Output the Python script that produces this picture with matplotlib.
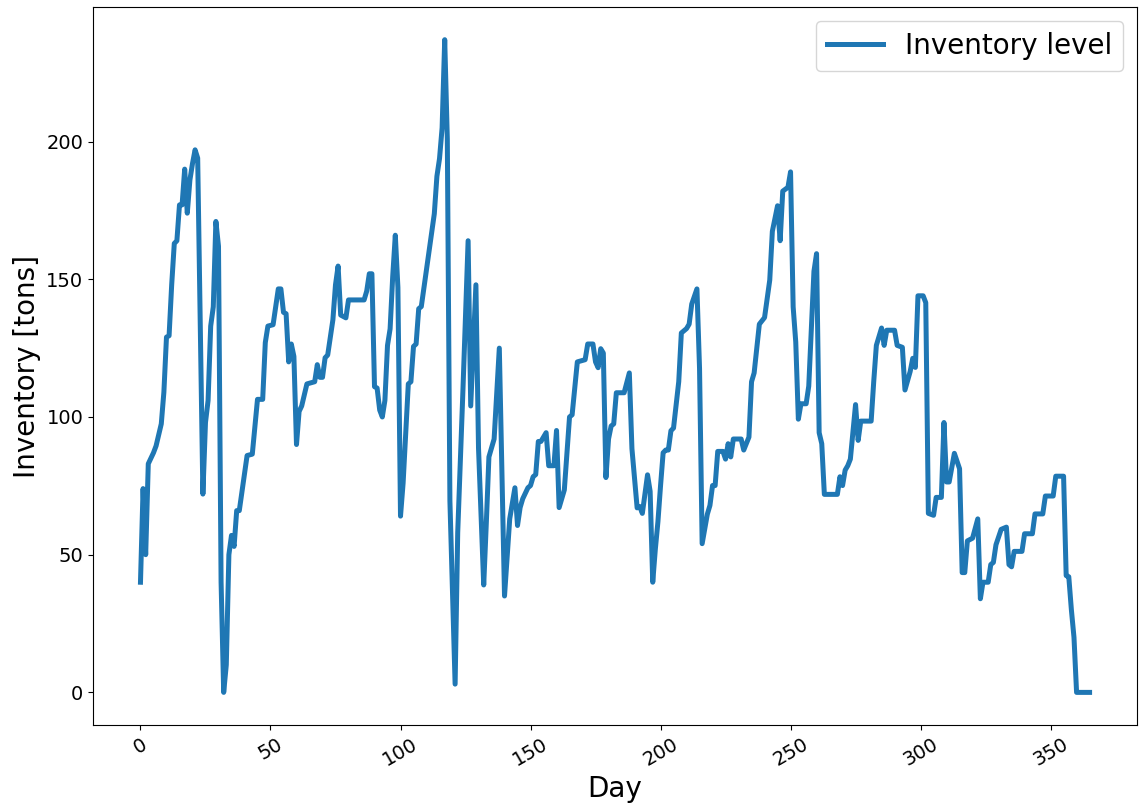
import matplotlib
matplotlib.use("Agg")
import matplotlib.pyplot as plt

# Stock on hand over the year: day index and inventory level (tons) at each change point
day = [
    0, 1, 2, 3, 5, 6, 8, 9, 10, 11, 12, 13, 14, 15, 16, 17, 18, 19, 20, 21, 22, 24,
    25, 26, 27, 28, 29, 30, 31, 32, 33, 34, 35, 36, 37, 38, 41, 43, 45, 47, 48, 49,
    51, 53, 54, 55, 56, 57, 58, 59, 60, 61, 62, 64, 67, 68, 69, 70, 71, 72, 74, 75,
    76, 77, 79, 80, 86, 87, 88, 89, 90, 91, 92, 93, 94, 95, 96, 97, 98, 99, 100, 101,
    103, 104, 105, 106, 107, 108, 113, 114, 115, 116, 117, 118, 119, 121, 122, 124,
    126, 127, 129, 130, 132, 133, 134, 136, 138, 140, 142, 144, 145, 146, 147, 149,
    150, 151, 152, 153, 154, 156, 157, 159, 160, 161, 163, 165, 166, 168, 171, 172,
    174, 175, 176, 177, 178, 179, 180, 181, 182, 183, 186, 188, 189, 191, 192, 193,
    195, 196, 197, 198, 199, 200, 201, 202, 203, 204, 205, 207, 208, 210, 211, 212,
    214, 215, 216, 218, 219, 220, 221, 222, 224, 225, 226, 227, 228, 231, 232, 234,
    235, 236, 238, 240, 242, 243, 245, 246, 247, 249, 250, 251, 252, 253, 254, 256,
    257, 259, 260, 261, 262, 263, 268, 269, 270, 271, 272, 273, 275, 276, 277, 281,
    282, 283, 285, 286, 287, 290, 291, 293, 294, 296, 297, 298, 299, 301, 302, 303,
    305, 306, 308, 309, 310, 311, 313, 315, 316, 317, 318, 320, 322, 323, 324, 326,
    327, 328, 329, 331, 333, 334, 335, 336, 339, 340, 343, 344, 347, 348, 351, 352,
    355, 356, 357, 358, 359, 360, 365,
]
level = [
    40, 74, 50, 83, 87, 89.5, 97.5, 109, 129, 129.5, 148, 163, 164, 177, 177, 190, 174, 186, 192, 197, 194, 72,
    98, 106, 133, 140, 171, 162, 40, 0, 10, 50, 57, 53, 66, 66, 86, 86.5, 106.4, 106.4, 127, 133,
    133.5, 146.5, 146.5, 138, 137.5, 120, 126.5, 122, 90, 102, 104, 112, 112.8, 119, 114.4, 114.4, 121.5, 122.5, 135.3, 148,
    154.8, 137, 136, 142.5, 142.5, 145.7, 152, 152, 111, 110.5, 102.5, 100, 106, 126, 132, 151, 166, 147, 64, 76,
    112, 112.8, 125.6, 126.5, 139.3, 140.1, 173.8, 187.4, 193.8, 205, 237, 201, 69.5, 3, 58, 109.5,
    164, 104, 148, 88.7, 39, 61.5, 85.5, 92, 125, 35, 63, 74.3, 60.6, 67.1, 70.3, 74.3,
    75.1, 78.3, 79.1, 91.1, 91.1, 94.3, 82.3, 82.3, 95.1, 67.1, 73.5, 100, 100.8, 120, 120.8, 126.5,
    126.5, 120, 117.9, 124.8, 123.2, 78, 92, 96.7, 97.5, 108.8, 108.8, 116, 88.5, 67, 67.5, 65,
    79, 73, 40, 52, 62, 75, 87, 88, 88, 95, 96, 112.8, 130.5, 132.1, 133.7, 141,
    146.5, 117.6, 54, 64.7, 67.9, 75.1, 75.1, 87.5, 87.5, 84.7, 90.3, 85.5, 92, 92, 88, 92.7,
    112.8, 116, 133.7, 136.1, 149.7, 167.4, 176.7, 164, 182, 183.4, 189, 140, 127.2, 99.2, 104.8, 104.8,
    111.2, 152.9, 159.3, 94.3, 90.3, 71.9, 71.9, 78.3, 75.1, 80.7, 82.3, 84.7, 104.5, 91.5, 98.5, 98.5,
    113, 126, 132.3, 126, 131.5, 131.5, 126, 125.3, 109.8, 116.5, 121.3, 118, 144, 144, 141.5, 65,
    64.3, 70.8, 70.8, 98, 76.4, 76.4, 86.8, 81.2, 43.5, 43.5, 55, 56, 63, 34, 40, 40,
    46.4, 47.2, 53.6, 59.2, 60, 46.4, 45.6, 51.2, 51.2, 57.6, 57.6, 64.8, 64.8, 71.3, 71.3, 78.5,
    78.5, 42.4, 42, 30, 20, 0, 0,
]

fig = plt.figure(figsize=(11.4, 8.09), dpi=100)
ax = fig.add_axes([0.0816, 0.1038, 0.9158, 0.8875])

ax.plot(day, level, color="#1f77b4", linewidth=3.6, label="Inventory level")

ax.set_xlabel("Day", fontsize=20)
ax.set_ylabel("Inventory [tons]", fontsize=20)
ax.tick_params(axis="both", labelsize=14)
plt.setp(ax.get_xticklabels(), rotation=30)
ax.legend(fontsize=20, loc="upper right")

fig.savefig("out.png", dpi=100)
